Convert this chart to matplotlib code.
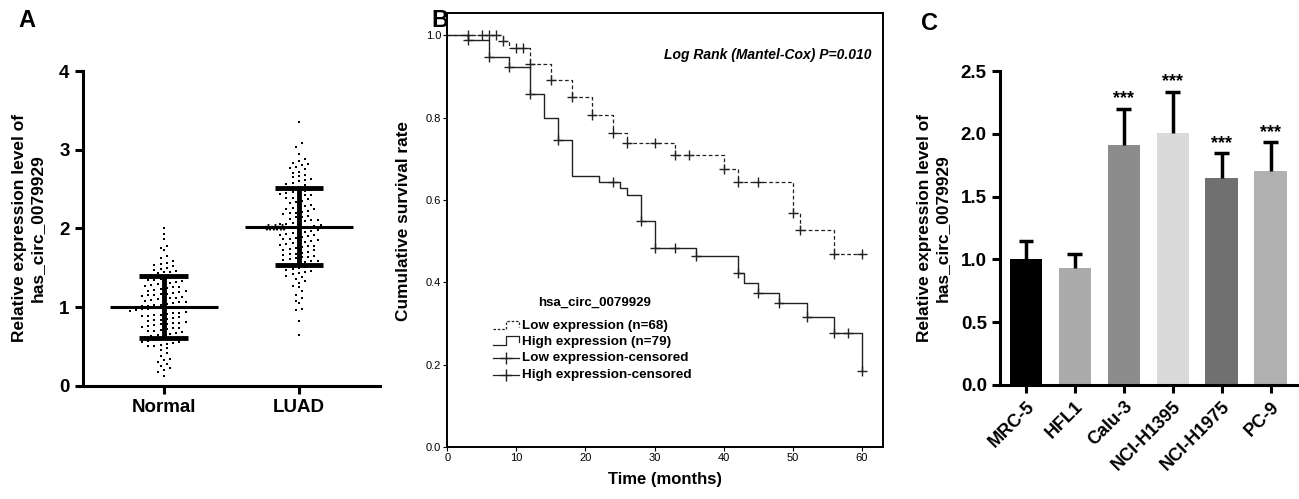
import numpy as np
import matplotlib.pyplot as plt

plt.rcParams['font.family'] = ['Liberation Sans', 'DejaVu Sans']

# ---- panel A: scatter of expression values ----
groups_a = ['Normal', 'LUAD']
normal_vals = [
    2.00, 1.93, 1.86, 1.78, 1.75, 1.72, 1.65, 1.62,
    1.58, 1.56, 1.55, 1.53, 1.52,
    1.49, 1.48, 1.47, 1.46, 1.45, 1.44, 1.43, 1.41,
    1.39, 1.38, 1.37, 1.36, 1.35, 1.34, 1.33, 1.32, 1.31, 1.30,
    1.29, 1.28, 1.27, 1.26, 1.25, 1.24, 1.23, 1.22, 1.21, 1.20,
    1.19, 1.18, 1.17, 1.16, 1.15, 1.15, 1.14, 1.13, 1.12, 1.11, 1.10, 1.10,
    1.09, 1.08, 1.07, 1.06, 1.05, 1.04, 1.03, 1.02, 1.01, 1.01, 1.00, 1.00,
    1.00, 1.00, 1.00, 0.99, 0.99, 0.99,
    0.98, 0.97, 0.96, 0.95, 0.94, 0.93, 0.92, 0.91, 0.90, 0.90,
    0.89, 0.88, 0.87, 0.86, 0.85, 0.84, 0.83, 0.82, 0.81, 0.80, 0.80,
    0.79, 0.78, 0.77, 0.76, 0.75, 0.74, 0.73, 0.72, 0.71, 0.70,
    0.69, 0.68, 0.67, 0.66, 0.65, 0.64, 0.63, 0.62, 0.61, 0.61, 0.60, 0.60,
    0.59, 0.58, 0.57, 0.56, 0.55, 0.54, 0.53, 0.52, 0.51, 0.50,
    0.48, 0.45, 0.42, 0.38, 0.34, 0.33, 0.30, 0.28, 0.25, 0.22, 0.20, 0.18, 0.12]
luad_vals = [
    3.35, 3.08, 3.03, 2.95, 2.88, 2.86, 2.83, 2.82, 2.80, 2.78, 2.77, 2.75,
    2.72, 2.70, 2.68, 2.66, 2.65, 2.63, 2.61, 2.60, 2.58, 2.57, 2.55, 2.53,
    2.52, 2.50, 2.49, 2.48, 2.47, 2.46, 2.45, 2.44, 2.43, 2.42, 2.40, 2.39, 2.38, 2.37,
    2.35, 2.33, 2.32, 2.30, 2.29, 2.28, 2.26, 2.25, 2.24, 2.22, 2.21, 2.20, 2.19, 2.18,
    2.16, 2.15, 2.14, 2.12, 2.11, 2.10, 2.09, 2.08, 2.07, 2.06, 2.05, 2.04, 2.03, 2.02,
    2.02, 2.01, 2.00, 2.00,
    1.99, 1.98, 1.97, 1.96, 1.95, 1.94, 1.93, 1.92, 1.91, 1.90, 1.89, 1.88, 1.87,
    1.86, 1.85, 1.84, 1.83, 1.82, 1.81, 1.80, 1.79, 1.78, 1.77, 1.76, 1.75, 1.74,
    1.73, 1.72, 1.70, 1.69, 1.68, 1.67, 1.66, 1.65, 1.64, 1.63, 1.62, 1.61, 1.60,
    1.59, 1.58, 1.57, 1.56, 1.55, 1.54, 1.53, 1.52, 1.51, 1.50,
    1.48, 1.47, 1.46, 1.45, 1.43, 1.42, 1.40, 1.38, 1.36, 1.33, 1.30, 1.27,
    1.25, 1.20, 1.15, 1.12, 1.08, 1.05, 0.98, 0.96, 0.82, 0.65]
mean_a = [1.00, 2.02]
sd_a = [0.39, 0.49]

# ---- panel B: Kaplan-Meier curves ----
low_t = [0, 8, 9, 12, 15, 18, 21, 24, 26, 33, 40, 42, 50, 51, 56, 60]
low_s = [1.0, 0.986, 0.968, 0.931, 0.892, 0.850, 0.807, 0.763, 0.737, 0.709,
         0.676, 0.644, 0.567, 0.527, 0.468, 0.468]
low_cens = [3, 5, 6, 7, 8, 10, 11, 12, 15, 18, 21, 24, 26, 30, 33, 35, 40, 42, 45,
            50, 51, 56, 60]
high_t = [0, 3, 6, 9, 12, 14, 16, 18, 22, 25, 26, 28, 30, 36, 42, 43, 45, 48, 52, 56, 60]
high_s = [1.0, 0.988, 0.947, 0.923, 0.856, 0.800, 0.745, 0.659, 0.644, 0.628, 0.612,
          0.549, 0.482, 0.464, 0.422, 0.399, 0.375, 0.349, 0.315, 0.277, 0.184]
high_cens = [3, 6, 9, 12, 16, 24, 28, 30, 33, 36, 42, 45, 48, 52, 56, 58, 60]

# ---- panel C: cell lines ----
cells = ['MRC-5', 'HFL1', 'Calu-3', 'NCI-H1395', 'NCI-H1975', 'PC-9']
expr = [1.00, 0.93, 1.91, 2.01, 1.645, 1.70]
expr_err = [0.15, 0.115, 0.29, 0.325, 0.20, 0.235]
signif = ['', '', '***', '***', '***', '***']
bar_colors = ['#000000', '#ababab', '#8c8c8c', '#dadada', '#707070', '#b0b0b0']


def swarm(vals, center, dy=0.065, dx=0.046):
    # spread points of the same row sideways, like a GraphPad scatter
    v = np.sort(np.asarray(vals, dtype=float))
    rows = np.round(v / dy).astype(int)
    xs = np.zeros_like(v)
    for r in np.unique(rows):
        idx = np.where(rows == r)[0]
        n = len(idx)
        xs[idx] = center + (np.arange(n) - (n - 1) / 2) * dx
    return xs, v


def surv_at(ts, ss, t):
    i = np.searchsorted(ts, t, side='right') - 1
    return np.asarray(ss)[i]


fig = plt.figure(figsize=(12.99, 4.99), dpi=100)

# ================= A =================
axA = fig.add_axes([0.0637, 0.227, 0.2288, 0.6307])
for i, vals in enumerate([normal_vals, luad_vals]):
    xs, ys = swarm(vals, i)
    axA.scatter(xs, ys, s=3.5, color='black', marker='s', linewidths=0, zorder=2)
    axA.hlines(mean_a[i], i - 0.4, i + 0.4, color='black', lw=2.2, zorder=3)
    axA.vlines(i, mean_a[i] - sd_a[i], mean_a[i] + sd_a[i], color='black', lw=3.5, zorder=3)
    for y in (mean_a[i] - sd_a[i], mean_a[i] + sd_a[i]):
        axA.hlines(y, i - 0.18, i + 0.18, color='black', lw=3.5, zorder=3)
axA.text(0.83, 1.96, '***', ha='center', va='center', fontsize=13, fontweight='bold',
         zorder=5)
axA.set_xlim(-0.6, 1.6)
axA.set_ylim(0, 4)
axA.set_xticks([0, 1])
axA.set_xticklabels(groups_a)
axA.set_yticks([0, 1, 2, 3, 4])
axA.set_ylabel('Relative expression level of\nhas_circ_0079929', fontsize=12.5,
               fontweight='bold', labelpad=10, linespacing=1.25)
for sp in ['top', 'right']:
    axA.spines[sp].set_visible(False)
for sp in ['left', 'bottom']:
    axA.spines[sp].set_linewidth(2.2)
axA.tick_params(width=2.2, length=6, labelsize=13.5)
for lab in axA.get_xticklabels() + axA.get_yticklabels():
    lab.set_fontweight('bold')
fig.text(0.014, 0.945, 'A', fontsize=17, fontweight='bold')

# ================= B =================
axB = fig.add_axes([0.3443, 0.1042, 0.3352, 0.8691])
axB.step(low_t, low_s, where='post', color='#222222', lw=0.9, ls=(0, (3, 2)))
axB.step(high_t, high_s, where='post', color='#222222', lw=1.0)
axB.plot(low_cens, surv_at(low_t, low_s, low_cens), ls='none', marker='+',
         ms=7, mew=1.0, color='#222222')
axB.plot(high_cens, surv_at(high_t, high_s, high_cens), ls='none', marker='+',
         ms=7, mew=1.0, color='#222222')
axB.set_xlim(0, 63)
axB.set_ylim(0, 1.053)
axB.set_xticks(range(0, 61, 10))
axB.set_yticks([0.0, 0.2, 0.4, 0.6, 0.8, 1.0])
axB.set_yticklabels(['0.0', '0.2', '0.4', '0.6', '0.8', '1.0'])
axB.tick_params(labelsize=8, length=3, width=0.8, pad=1.5)
for sp in axB.spines.values():
    sp.set_linewidth(1.4)
axB.set_xlabel('Time (months)', fontsize=12, fontweight='bold', labelpad=6)
axB.set_ylabel('Cumulative survival rate', fontsize=12.4, fontweight='bold', labelpad=7)
axB.yaxis.set_label_coords(-0.083, 0.52)
axB.text(0.975, 0.905, 'Log Rank (Mantel-Cox) P=0.010', transform=axB.transAxes,
         ha='right', va='center', fontsize=10, fontweight='bold', style='italic')

# manual legend
tr = axB.transAxes
axB.text(0.339, 0.332, 'hsa_circ_0079929', transform=tr, ha='center', va='center',
         fontsize=9.5, fontweight='bold')
leg_y = [0.279, 0.243, 0.205, 0.166]
leg_txt = ['Low expression (n=68)', 'High expression (n=79)',
           'Low expression-censored', 'High expression-censored']
x0, xm, x1 = 0.104, 0.134, 0.165
for k, y in enumerate(leg_y):
    if k < 2:
        ls = (0, (2, 1.5)) if k == 0 else '-'
        axB.plot([x0, xm, xm, x1, x1], [y - 0.008, y - 0.008, y + 0.012, y + 0.012, y - 0.002],
                 transform=tr, color='#222222', lw=0.9, ls=ls, clip_on=False)
    else:
        axB.plot([x0, x1], [y, y], transform=tr, color='#222222', lw=0.9, clip_on=False)
        axB.plot([(x0 + x1) / 2], [y], transform=tr, marker='+', ms=9, mew=1.0,
                 color='#222222', clip_on=False)
    axB.text(0.172, y, leg_txt[k], transform=tr, ha='left', va='center',
             fontsize=9.7, fontweight='bold')
fig.text(0.332, 0.945, 'B', fontsize=17, fontweight='bold')

# ================= C =================
axC = fig.add_axes([0.7698, 0.2285, 0.2294, 0.6292])
xc = np.arange(len(cells))
axC.bar(xc, expr, width=0.66, color=bar_colors, zorder=2)
tops = np.array(expr) + np.array(expr_err)
axC.vlines(xc, expr, tops, color='black', lw=2.5, zorder=3)
axC.hlines(tops, xc - 0.15, xc + 0.15, color='black', lw=2.5, zorder=3)
for i in range(len(cells)):
    if signif[i]:
        axC.text(xc[i], tops[i] + 0.01, signif[i], ha='center',
                 va='bottom', fontsize=13, fontweight='bold')
axC.set_xlim(-0.53, 5.56)
axC.set_ylim(0, 2.5)
axC.set_yticks([0.0, 0.5, 1.0, 1.5, 2.0, 2.5])
axC.set_yticklabels(['0.0', '0.5', '1.0', '1.5', '2.0', '2.5'])
axC.set_xticks(xc)
axC.set_xticklabels(cells, rotation=45, ha='right', rotation_mode='anchor')
axC.set_ylabel('Relative expression level of\nhas_circ_0079929', fontsize=12.5,
               fontweight='bold', labelpad=8, linespacing=1.25)
for sp in ['top', 'right']:
    axC.spines[sp].set_visible(False)
for sp in ['left', 'bottom']:
    axC.spines[sp].set_linewidth(2.2)
axC.tick_params(width=2.2, length=6, labelsize=13.5)
axC.tick_params(axis='x', labelsize=13)
for lab in axC.get_xticklabels() + axC.get_yticklabels():
    lab.set_fontweight('bold')
fig.text(0.709, 0.94, 'C', fontsize=17, fontweight='bold')

fig.savefig('out.png', dpi=100)
